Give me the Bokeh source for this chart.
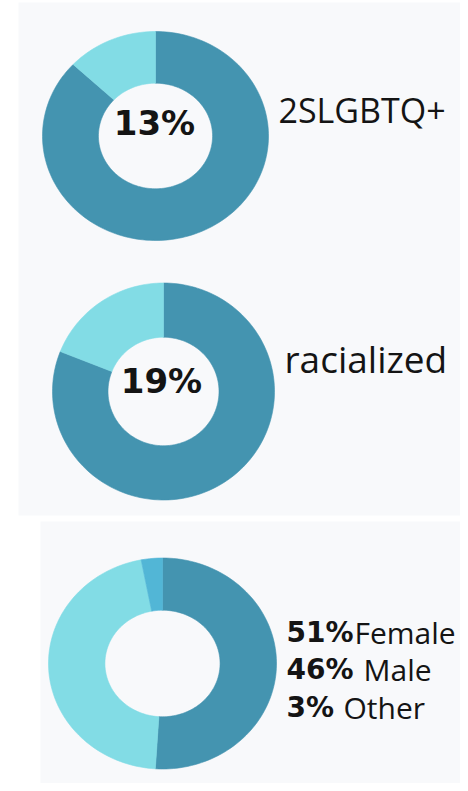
import numpy as np
from bokeh.plotting import figure
from bokeh.models import Range1d, ColumnDataSource
from bokeh.core.properties import value
from bokeh.embed import file_html
from bokeh.resources import INLINE

# ---- data ----
lgbtq_labels = ["Other", "2SLGBTQ+"]
lgbtq_values = [87, 13]
racial_labels = ["Other", "racialized"]
racial_values = [81, 19]
gender_labels = ["Female", "Male", "Other"]
gender_values = [51, 46, 3]

DARK = "#4494b0"
LIGHT = "#82dce5"
MID = "#52b6d6"
PANEL = "#f8f9fb"
INK = "#141414"

p = figure(width=460, height=783, x_range=Range1d(0, 460), y_range=Range1d(783, 0),
           output_backend="svg", toolbar_location=None, min_border=0,
           x_axis_location=None, y_axis_location=None)
p.grid.visible = False
p.outline_line_color = None
p.background_fill_color = "white"
p.border_fill_color = "white"

# panels
p.quad(left=[18, 40], right=[463, 461], top=[2, 521], bottom=[515, 790],
       fill_color=PANEL, line_color=None)


def donut(vals, colors, cx, cy, rx, ry, frac):
    total = float(sum(vals))
    xs, ys = [], []
    start = 0.0
    for v in vals:
        end = start + 2 * np.pi * v / total
        t = np.linspace(start, end, max(int(200 * v / total), 4))
        ox = cx + rx * np.sin(t)
        oy = cy - ry * np.cos(t)
        ix = cx + rx * frac * np.sin(t[::-1])
        iy = cy - ry * frac * np.cos(t[::-1])
        xs.append(list(np.concatenate([ox, ix])))
        ys.append(list(np.concatenate([oy, iy])))
        start = end
    src = ColumnDataSource(dict(xs=xs, ys=ys, color=colors))
    p.patches("xs", "ys", source=src, fill_color="color", line_color="color", line_width=0.6)


donut(lgbtq_values, [DARK, LIGHT], 155, 135.5, 113, 104.5, 0.505)
donut(racial_values, [DARK, LIGHT], 163, 391, 111, 108.5, 0.5)
donut(gender_values, [DARK, LIGHT, MID], 162, 663, 114, 105.5, 0.505)

BOLD = value("DejaVu Sans")
LIGHTF = value("Open Sans")

# center percentages
p.text(x=[154, 161], y=[122, 380],
       text=[f"{lgbtq_values[1]}%", f"{racial_values[1]}%"],
       text_font=BOLD, text_font_style="bold", text_font_size="34px",
       text_align="center", text_baseline="alphabetic", text_color=INK)

# side labels
p.text(x=[278], y=[109], text=[lgbtq_labels[1]],
       text_font=LIGHTF, text_font_size="34px",
       text_align="left", text_baseline="alphabetic", text_color=INK)
p.text(x=[284], y=[358], text=[racial_labels[1]],
       text_font=LIGHTF, text_font_size="37px",
       text_align="left", text_baseline="alphabetic", text_color=INK)

# gender legend
p.text(x=[286, 286, 286], y=[632, 669, 707],
       text=[f"{v}%" for v in gender_values],
       text_font=BOLD, text_font_style="bold", text_font_size="28px",
       text_align="left", text_baseline="alphabetic", text_color=INK)
p.text(x=[354, 363, 343], y=[632, 669, 707], text=gender_labels,
       text_font=LIGHTF, text_font_size="30px",
       text_align="left", text_baseline="alphabetic", text_color=INK)

open("out.html", "w").write(file_html(p, INLINE))
